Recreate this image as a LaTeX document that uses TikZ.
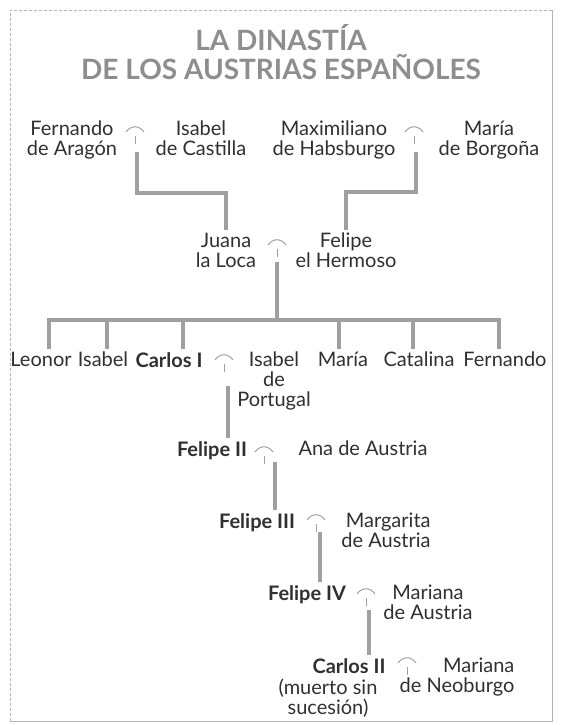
\documentclass[tikz,border=0pt]{standalone}
\usepackage{fontspec}
\setmainfont{Lato}
\usetikzlibrary{calc}
\definecolor{ink}{HTML}{303030}
\definecolor{linegray}{HTML}{A0A0A0}
\definecolor{titlegray}{HTML}{8E8E8E}
\definecolor{framegray}{HTML}{B4B4B4}
\begin{document}
\begin{tikzpicture}[x=1pt,y=-1pt,
  person/.style={font=\fontsize{20}{20}\selectfont, text=ink, inner xsep=0pt, inner ysep=3pt, anchor=north, align=center},
  king/.style={person, font=\fontsize{20}{20}\selectfont\bfseries},
  link/.style={draw=linegray, line width=3.2pt},
  symb/.style={draw=linegray, line width=1pt},
  titletext/.style={font=\fontsize{28}{30}\selectfont\bfseries, text=titlegray, inner sep=0pt, anchor=base},
  marriage/.pic={\draw[symb] (-9,2) .. controls (-4,-5) and (4,-5) .. (9,2); \draw[symb] (0,6) -- (0,14);}
]
\useasboundingbox (0,0) rectangle (560,725);
% frame
\draw[framegray, line width=0.6pt, densely dashed] (10,721) -- (10,10) -- (552,10);
\draw[framegray, line width=0.7pt] (552,10) -- (552,721) -- (10,721);
% title
\node[titletext] (t1) at (281,51) {LA DINASTÍA};
\node[titletext] (t2) at (281,79) {DE LOS AUSTRIAS ESPAÑOLES};
% generation 1
\node[person] (fernandoA) at (72,118) {Fernando\\de Aragón};
\node[person] (isabelC) at (201,118) {Isabel\\de Castilla};
\node[person] (maxim) at (334,118) {Maximiliano\\de Habsburgo};
\node[person] (mariaB) at (489,118) {María\\de Borgoña};
% generation 2
\node[person] (juana) at (226,230) {Juana\\la Loca};
\node[person] (felipeH) at (346,230) {Felipe\\el Hermoso};
% generation 3
\node[person] (leonor) at (41,349) {Leonor};
\node[person] (isabel) at (103,349) {Isabel};
\node[king] (carlos1) at (169,349) {Carlos I};
\node[person] (isabelP) at (274,349) {Isabel\\de\\Portugal};
\node[person] (maria) at (343,349) {María};
\node[person] (catalina) at (419,349) {Catalina};
\node[person] (fernando) at (505,349) {Fernando};
% later generations
\node[king] (felipe2) at (212,438) {Felipe II};
\node[person] (ana) at (363,438) {Ana de Austria};
\node[king] (felipe3) at (257,510) {Felipe III};
\node[person, align=right] (margarita) at (386,510) {Margarita\\de Austria};
\node[king] (felipe4) at (307,582) {Felipe IV};
\node[person] (mariana1) at (428,582) {Mariana\\de Austria};
\node[king] (carlos2) at (349,655) {Carlos II};
\node[person, font=\fontsize{20}{18}\selectfont] (carlosnote) at (328,676) {(muerto sin\\sucesión)};
\node[person, align=right] (mariana2) at (457,655) {Mariana\\de Neoburgo};
% marriage symbols
\pic at (135,130) {marriage};
\pic at (414,130) {marriage};
\pic at (277,243) {marriage};
\pic at (224,358) {marriage};
\pic at (264,450) {marriage};
\pic at (316,518) {marriage};
\pic at (366,592) {marriage};
\pic at (407,661) {marriage};
% connector start points
\coordinate (mFA) at (137,152);
\coordinate (mMH) at (416,152);
\coordinate (mJF) at (277,262);
\coordinate (bus) at (277,320);
\coordinate (mCI) at (228,386);
\coordinate (mFII) at (275,462);
\coordinate (mFIII) at (320,532);
\coordinate (mFIV) at (369,610);
% connectors
\draw[link] (mFA) -- ++(0,41) -| (juana.north);
\draw[link] (mMH) -- ++(0,40) -| (felipeH.north);
\draw[link] (mJF) -- (bus);
\path ([xshift=8pt]leonor.north) coordinate (dLeonor)
      ([xshift=4pt]isabel.north) coordinate (dIsabel)
      ([xshift=14pt]carlos1.north) coordinate (dCarlos)
      ([xshift=-4pt]maria.north) coordinate (dMaria)
      ([xshift=-6pt]catalina.north) coordinate (dCatalina)
      ([xshift=-6pt]fernando.north) coordinate (dFernando);
\draw[link] (dLeonor) |- (bus) -| (dFernando);
\draw[link] (dIsabel |- bus) -- (dIsabel);
\draw[link] (dCarlos |- bus) -- (dCarlos);
\draw[link] (dMaria |- bus) -- (dMaria);
\draw[link] (dCatalina |- bus) -- (dCatalina);
\draw[link] (mCI) -- (mCI |- felipe2.north);
\draw[link] (mFII) -- (mFII |- felipe3.north);
\draw[link] (mFIII) -- (mFIII |- felipe4.north);
\draw[link] (mFIV) -- (mFIV |- carlos2.north);
\end{tikzpicture}
\end{document}
